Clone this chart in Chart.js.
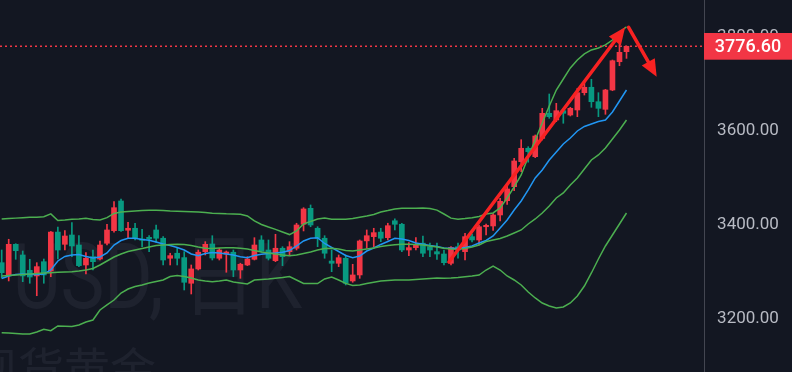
<!DOCTYPE html>
<html><head><meta charset="utf-8">
<script src="https://cdn.jsdelivr.net/npm/chart.js@4.4.1/dist/chart.umd.min.js"></script>
<style>html,body{margin:0;padding:0;background:#131722;overflow:hidden}#wrap{width:792px;height:372px}</style>
</head><body><div id="wrap"><canvas id="c" width="792" height="372"></canvas></div>
<script>
// ---- data (daily candles) ----
const opens=[3316.2,3288.6,3355.3,3332.6,3300.0,3288.0,3318.3,3298.5,3381.3,3355.3,
3375.1,3353.8,3311.3,3329.0,3324.0,3357.5,3384.3,3447.5,3385.2,3389.4,
3366.6,3370.2,3385.8,3368.2,3325.6,3336.3,3327.0,3272.4,3302.9,3339.6,
3356.0,3325.6,3334.7,3338.4,3300.7,3311.3,3323.4,3364.5,3343.2,3320.4,
3346.9,3339.6,3346.9,3397.9,3431.9,3389.4,3368.2,3319.7,3314.9,3325.6,
3277.3,3290.1,3362.6,3371.6,3381.3,3369.4,3405.4,3397.9,3343.2,3348.2,
3357.7,3350.2,3339.6,3334.7,3314.9,3350.2,3339.6,3371.6,3364.5,3392.7,
3394.3,3417.7,3448.1,3477.9,3531.1,3559.6,3541.7,3580.7,3634.0,3619.8,
3639.6,3630.4,3641.1,3677.9,3689.4,3658.7,3642.5,3683.6,3743.8,3765.1];
const closes=[3295.0,3355.3,3341.7,3288.0,3285.7,3307.8,3290.1,3381.3,3343.2,3373.0,
3351.7,3309.9,3325.6,3318.3,3353.8,3385.8,3433.2,3384.3,3389.4,3368.2,
3363.9,3366.6,3368.2,3321.9,3331.2,3325.6,3274.5,3302.9,3338.4,3355.3,
3326.2,3343.2,3338.9,3300.7,3312.8,3324.0,3353.8,3341.1,3325.6,3346.9,
3329.0,3350.2,3396.4,3430.5,3396.4,3368.2,3336.3,3314.9,3326.8,3272.4,
3290.1,3362.4,3373.6,3380.1,3368.2,3394.9,3397.9,3343.2,3348.2,3353.8,
3336.3,3343.2,3334.7,3316.2,3348.7,3343.2,3371.6,3364.5,3392.7,3395.7,
3417.7,3446.8,3473.0,3532.6,3559.6,3552.4,3585.7,3634.0,3626.8,3639.6,
3634.0,3644.6,3677.9,3689.4,3658.7,3644.6,3683.6,3745.9,3763.8,3776.6];
const highs=[3343.2,3366.0,3356.6,3341.1,3323.4,3316.2,3324.0,3382.6,3391.9,3384.7,
3401.3,3373.6,3337.5,3343.2,3362.4,3397.9,3446.0,3451.7,3402.2,3400.1,
3387.4,3373.6,3396.4,3371.6,3336.3,3346.9,3339.6,3311.3,3343.2,3360.9,
3373.6,3346.9,3341.1,3343.2,3315.0,3329.0,3369.4,3373.6,3364.5,3376.6,
3350.2,3360.9,3400.1,3433.2,3439.0,3392.7,3373.6,3343.2,3332.6,3332.6,
3312.8,3364.5,3385.8,3389.4,3389.4,3400.1,3409.5,3400.1,3358.8,3369.4,
3373.0,3357.7,3357.7,3343.2,3350.2,3357.7,3378.7,3377.3,3396.4,3398.5,
3420.9,3453.2,3481.5,3538.4,3577.9,3563.0,3587.9,3644.6,3675.1,3655.3,
3644.6,3646.8,3687.3,3703.4,3706.4,3677.9,3685.1,3747.4,3790.0,3777.0];
const lows=[3283.7,3277.3,3323.4,3275.8,3272.4,3245.9,3272.4,3286.3,3324.0,3343.2,
3329.0,3307.8,3292.2,3300.7,3321.9,3353.8,3380.9,3382.6,3368.2,3364.5,
3350.2,3339.6,3359.1,3311.3,3311.3,3311.3,3258.1,3249.6,3300.7,3332.6,
3321.9,3321.9,3295.8,3286.3,3282.9,3309.9,3321.9,3338.4,3321.9,3318.3,
3309.9,3332.6,3343.2,3383.7,3392.7,3350.2,3325.6,3297.0,3307.8,3268.8,
3274.5,3282.9,3346.9,3350.2,3360.9,3364.5,3385.8,3339.6,3331.2,3343.2,
3329.0,3329.0,3323.4,3311.3,3311.3,3325.6,3321.9,3360.3,3353.8,3375.1,
3384.7,3405.3,3440.0,3469.4,3509.8,3530.0,3539.6,3577.2,3623.4,3616.2,
3612.8,3628.3,3626.8,3672.9,3646.8,3626.8,3631.9,3682.1,3735.3,3750.9];
// Bollinger upper / middle / lower and a faster moving average (blue)
const bollUpper=[3409,3410,3411,3412,3413,3413,3414,3420,3406,3407,
3408.5,3409,3410.7,3408,3407,3412,3421,3424,3425,3426,
3427,3428,3428,3427,3426,3425.6,3425,3424.7,3424,3423,
3421.3,3421,3420.2,3419.8,3419,3415.6,3405,3397.5,3392,3387,
3381.5,3376,3383.6,3398.5,3404,3409,3411,3408.5,3408.5,3408.5,
3410,3413,3415.6,3418.7,3424,3427,3430.4,3432,3432,3432,
3432.6,3431.5,3428,3419.8,3411,3408.5,3410,3412,3414.5,3419.8,
3422,3432.6,3453.9,3477.3,3502.8,3541,3577.3,3613.5,3649.6,3683.6,
3707,3730.5,3747.5,3760.3,3768.8,3773,3779.5,3790,3807,3817.7];
const bollMid=[3287.9,3289,3290,3291,3292,3293,3294.3,3295,3295.8,3296.4,
3297,3298.5,3300.6,3303.8,3311.3,3319.8,3328.3,3334.7,3340,3343.2,
3346.4,3349.6,3352.8,3353.8,3355,3355.3,3355,3352.8,3349.6,3346.8,
3346.4,3347.5,3347.9,3348.1,3346.8,3345.3,3342.1,3339,3336.8,3334.7,
3332.6,3331,3332.6,3335.8,3339,3343.2,3346.4,3346.8,3345.3,3342.1,
3341,3343.2,3345.3,3347.5,3350.7,3352.8,3354.3,3355.3,3355.3,3355,
3353.8,3351.7,3349.6,3346.8,3345.3,3344.6,3346.4,3349.6,3353.8,3361.3,
3364.5,3367.7,3373,3379.4,3385.8,3398.5,3409.2,3422,3436.8,3453.9,
3464.5,3481.5,3496.4,3515.6,3534.7,3545.4,3560.2,3579.4,3598.5,3619.8];
const bollLower=[3167.2,3166.6,3165.5,3164.4,3164.4,3168.7,3174.5,3171.5,3181.5,3180.8,
3180.4,3183.6,3190,3194.2,3215.5,3226.2,3236.8,3251.7,3260.2,3265.5,
3268.7,3273,3276.2,3279.4,3286.8,3288.9,3286.8,3283.6,3279.4,3277.2,
3275.7,3277.2,3279.4,3275.1,3273,3270.8,3279.4,3280.4,3281.5,3283,
3284.7,3286.8,3279.4,3272.1,3272.1,3271.7,3281.5,3285.7,3279.4,3272.1,
3267.7,3268.7,3271.7,3274.5,3277.2,3278.3,3279.4,3279.4,3279.4,3280.4,
3281.5,3282.6,3283.6,3283,3283.6,3284.7,3286.4,3287.9,3290,3300.6,
3309.1,3300.6,3287.9,3279.4,3268.7,3253.8,3241.1,3230.4,3224,3219.8,
3221.9,3230.4,3245.3,3266.6,3294.3,3324,3351.7,3375.1,3398.5,3421.9];
const maFast=[3282.6,3287.9,3291,3292,3291,3291,3292,3300.6,3319.8,3329.4,
3332.6,3333.6,3329.4,3326.2,3328.3,3336.8,3353.8,3363.4,3368.1,3368.1,
3365.5,3363.8,3360.2,3356,3352.8,3348.5,3343.2,3334.7,3331,3335.8,
3337.9,3336.8,3334.7,3332.6,3329,3326.8,3331.5,3334.1,3335.8,3336.8,
3338.3,3342.1,3351.7,3362.4,3368.1,3369.4,3357,3348.5,3340,3331.5,
3326.8,3330.4,3341,3347.5,3355,3361.3,3368.1,3366.6,3363.4,3358.1,
3355.3,3352.8,3350.7,3347.5,3346.8,3346.8,3348.5,3351.7,3358.1,3363.4,
3373,3390,3407,3428.3,3447.5,3470.9,3496.4,3513.4,3534.7,3551.7,
3568.8,3581.5,3596.4,3606,3611.3,3616.6,3619.8,3636.8,3660.2,3683.6];
const yTicks=[3200,3400,3600,3800];
const lastPrice=3776.60;
// hand-drawn arrows, in (candle index, price) coordinates
const arrowFrom=[[63.7,3317.7],[89.3,3817]];
const arrowTo=[[88.8,3817],[93.3,3712]];
const watermarkTitle='USD, 日K';
const watermarkSub='现货黄金';

const RED='#f23645',GREEN='#089981';
const idx=opens.map((_,i)=>i);
const candleColors=idx.map(i=>closes[i]>=opens[i]?RED:GREEN);
const line=(label,arr,color,order)=>({type:'line',label,data:idx.map(i=>({x:i,y:arr[i]})),
  borderColor:color,borderWidth:1.5,pointRadius:0,tension:0,order,fill:false});

const deco={
  id:'deco',
  beforeDraw(ch){const c=ch.ctx;c.save();c.fillStyle='#131722';c.fillRect(0,0,ch.width,ch.height);c.restore();},
  beforeDatasetsDraw(ch){
    const c=ch.ctx;c.save();
    c.fillStyle='rgba(190,200,220,0.065)';
    c.translate(302,308);c.scale(0.82,1);
    c.font='90px Roboto, "Noto Sans CJK SC"';c.textAlign='right';c.textBaseline='alphabetic';
    c.fillText(watermarkTitle,0,0);
    c.setTransform(1,0,0,1,0,0);
    c.font='46px "Noto Sans CJK SC"';c.textAlign='left';
    c.fillText(watermarkSub,-28,386);
    c.restore();
  },
  afterDraw(ch){
    const c=ch.ctx,xs=ch.scales.x,ys=ch.scales.y,a=ch.chartArea;
    c.save();
    // arrows
    c.strokeStyle='#f82222';c.fillStyle='#f82222';c.lineWidth=3.5;c.lineCap='round';
    for(let k=0;k<arrowFrom.length;k++){
      const x1=xs.getPixelForValue(arrowFrom[k][0]),y1=ys.getPixelForValue(arrowFrom[k][1]);
      const x2=xs.getPixelForValue(arrowTo[k][0]),y2=ys.getPixelForValue(arrowTo[k][1]);
      const an=Math.atan2(y2-y1,x2-x1),L=17,W=7.5;
      const bx=x2-L*Math.cos(an),by=y2-L*Math.sin(an);
      c.beginPath();c.moveTo(x1,y1);c.lineTo(bx+3*Math.cos(an),by+3*Math.sin(an));c.stroke();
      c.beginPath();c.moveTo(x2,y2);
      c.lineTo(bx+W*Math.sin(an),by-W*Math.cos(an));
      c.lineTo(bx-W*Math.sin(an),by+W*Math.cos(an));c.closePath();c.fill();
    }
    // dotted last-price line
    const py=ys.getPixelForValue(lastPrice);
    c.strokeStyle=RED;c.lineWidth=1.5;c.setLineDash([2,3]);c.lineCap='butt';
    c.beginPath();c.moveTo(a.left,py);c.lineTo(a.right,py);c.stroke();c.setLineDash([]);
    // tick labels
    c.fillStyle='#b8bbc4';c.font='17px Roboto';c.textAlign='center';c.textBaseline='middle';
    const cx=a.right+(ch.width-a.right)/2;
    yTicks.forEach(v=>c.fillText(v.toFixed(2),cx,ys.getPixelForValue(v)+1));
    // price label
    c.fillStyle=RED;c.fillRect(a.right,py-13.3,ch.width-a.right,26.7);
    c.fillStyle='#ffffff';c.font='500 18px Roboto';
    c.fillText(lastPrice.toFixed(2),cx,py+1);
    c.restore();
  }
};

new Chart(document.getElementById('c'),{
  type:'bar',
  data:{datasets:[
    line('Upper',bollUpper,'#4caf50',1),
    line('Middle',bollMid,'#4caf50',1),
    line('Lower',bollLower,'#4caf50',1),
    line('MA',maFast,'#2196f3',1),
    {type:'bar',label:'wick',data:idx.map(i=>({x:i,y:[lows[i],highs[i]]})),backgroundColor:candleColors,
      barThickness:1,grouped:false,order:3},
    {type:'bar',label:'body',data:idx.map(i=>({x:i,y:[opens[i],closes[i]]})),backgroundColor:candleColors,
      barThickness:5,grouped:false,minBarLength:1,order:2}
  ]},
  options:{
    responsive:false,animation:false,devicePixelRatio:1,
    layout:{padding:0},
    plugins:{legend:{display:false},tooltip:{enabled:false}},
    scales:{
      x:{type:'linear',min:-0.24,max:100.04,offset:false,display:false},
      y:{position:'right',min:3083.6,max:3875.1,
        grid:{display:false,drawTicks:false},
        border:{display:true,color:'#434651',width:1},
        ticks:{display:false},
        afterBuildTicks:s=>{s.ticks=yTicks.map(v=>({value:v}));},
        afterFit:s=>{s.width=88;}}
    }
  },
  plugins:[deco]
});
</script></body></html>
